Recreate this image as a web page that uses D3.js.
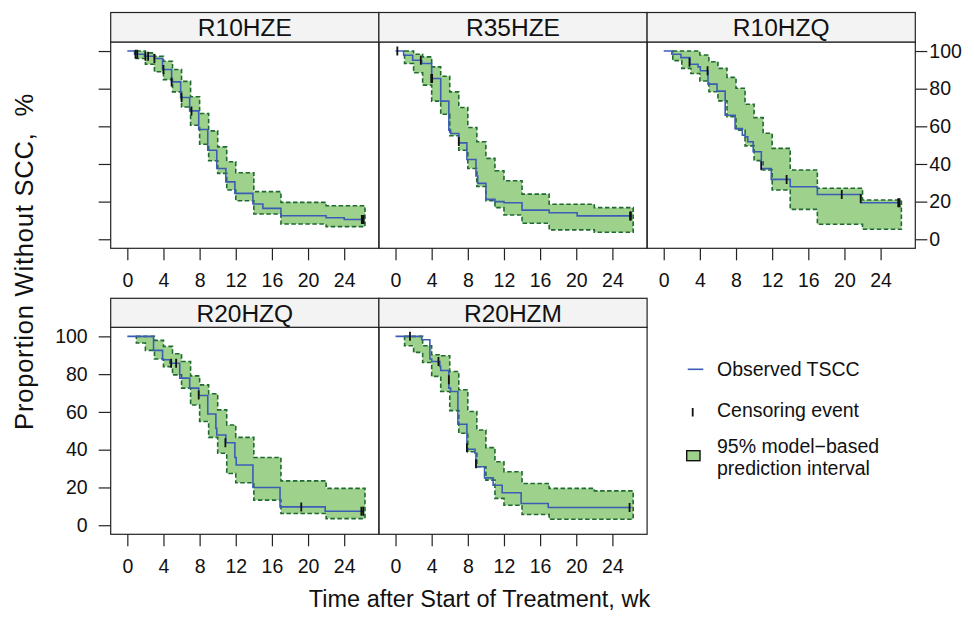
<!DOCTYPE html>
<html><head><meta charset="utf-8">
<script src="https://cdn.jsdelivr.net/npm/d3@7"></script>
<style>
html,body{margin:0;padding:0;background:#fff;}
svg{display:block;font-family:"Liberation Sans", Arial, Helvetica, sans-serif;}
</style></head><body>
<svg id="chart" width="974" height="619"></svg>
<script>
// ---------- DATA ----------
const panelNames = ["R10HZE", "R35HZE", "R10HZQ", "R20HZQ", "R20HZM"];
const xTicks = [0, 4, 8, 12, 16, 20, 24];
const yTicks = [0, 20, 40, 60, 80, 100];
const xTitle = "Time after Start of Treatment, wk";
const yTitle = "Proportion Without SCC,  %";
const legendLabels = ["Observed TSCC", "Censoring event", "95% model\u2212based", "prediction interval"];

// prediction-interval step boundaries (weeks)
const bandTimes = [1, 2, 3, 4, 5, 6, 7, 8, 9, 10, 11, 12, 14, 17, 22, 26.3];

// R10HZE
const obsTime_R10HZE = [0, 0.8, 1.9, 3.0, 3.9, 4.9, 5.9, 6.9, 7.9, 8.9, 9.9, 10.9, 11.9, 13.9, 15.0, 17.0, 22.0, 24.0, 26.1];
const obsSurv_R10HZE = [100, 98.3, 97.2, 96.0, 90.2, 83.6, 75.3, 68.2, 58.3, 47.3, 37.6, 30.5, 24.4, 18.7, 16.4, 12.5, 11.4, 10.5, 10.5];
const censTime_R10HZE = [0.9, 1.1, 2.0, 2.3, 3.0, 4.0, 4.9, 6.0, 7.1, 25.95, 26.05, 26.15];
const censSurv_R10HZE = [98.3, 98.3, 97.2, 97.2, 96.0, 90.2, 83.6, 75.3, 68.2, 10.5, 10.5, 10.5];
const upper_R10HZE = [100, 99, 97.2, 94.6, 90.2, 83.9, 75.7, 66.8, 57.6, 49.1, 41.2, 35.3, 25.3, 19.6, 17.8];
const lower_R10HZE = [96.0, 93, 89, 84.8, 78.3, 70.3, 60.6, 50.5, 41.7, 35.0, 26.2, 20.5, 13.4, 8.1, 6.7];

// R35HZE
const obsTime_R35HZE = [0, 0.9, 1.9, 2.9, 4.0, 5.0, 5.9, 6.1, 7.0, 7.9, 8.9, 9.1, 10.0, 11.0, 12.0, 14.0, 17.0, 20.1, 26.1];
const obsSurv_R35HZE = [100, 97.8, 95.1, 93.4, 85.4, 73.4, 58.0, 56.2, 51.2, 42.4, 33.6, 29.7, 21.2, 20.0, 19.4, 15.5, 14.1, 12.4, 12.4];
const censTime_R35HZE = [0.2, 2.8, 3.95, 4.05, 7.0, 25.95, 26.05];
const censSurv_R35HZE = [100, 95.1, 85.4, 85.4, 52.0, 12.4, 12.4];
const upper_R35HZE = [100, 98.3, 96.9, 91.6, 86.6, 78.3, 70.0, 59.4, 51.8, 43.0, 36.4, 31.1, 24.0, 18.6, 16.8];
const lower_R35HZE = [93.4, 88.5, 81.9, 73.4, 66.4, 55.0, 47.3, 37.6, 28.0, 20.5, 16.8, 12.9, 8.5, 5.0, 3.7];

// R10HZQ
const obsTime_R10HZQ = [0, 0.9, 1.9, 2.9, 3.8, 4.05, 4.9, 5.9, 6.8, 7.9, 8.7, 9.0, 9.3, 9.9, 10.8, 11.9, 14.0, 17.0, 21.8, 26.1];
const obsSurv_R10HZQ = [100, 98.3, 96.5, 93.0, 91.6, 89.5, 82.4, 78.7, 65.9, 58.8, 55.3, 54.4, 51.8, 46.5, 37.6, 31.8, 27.9, 23.8, 19.4, 19.4];
const censTime_R10HZQ = [2.85, 4.85, 10.8, 13.6, 19.7, 21.8, 25.95, 26.1];
const censSurv_R10HZQ = [94.0, 89.5, 39.0, 31.8, 23.8, 21.6, 19.4, 19.4];
const upper_R10HZQ = [100, 100, 100, 97.9, 94.3, 90.8, 86.0, 80.2, 71.7, 64.6, 56.3, 48.3, 36.8, 27.1, 20.9];
const lower_R10HZQ = [94.9, 90.8, 88.1, 84.1, 78.4, 73.5, 65.1, 58.0, 49.6, 41.8, 36.8, 26.2, 15.9, 8.0, 5.3];

// R20HZQ
const obsTime_R20HZQ = [0, 2.9, 3.9, 4.7, 5.8, 6.9, 7.9, 8.9, 9.8, 9.9, 10.9, 11.9, 12.05, 13.9, 16.9, 21.9, 26.1];
const obsSurv_R20HZQ = [100, 92.6, 87.6, 85.8, 77.9, 72.6, 68.7, 58.9, 51.3, 47.8, 43.7, 35.9, 31.9, 20.0, 9.7, 7.4, 7.4];
const censTime_R20HZQ = [4.85, 5.4, 7.9, 10.85, 19.25, 25.9, 26.1];
const censSurv_R20HZQ = [85.8, 85.8, 69.0, 43.7, 9.7, 7.4, 7.4];
const upper_R20HZQ = [100, 100, 97.9, 94.7, 90.8, 86.7, 79.1, 74.3, 69.6, 61.1, 53.1, 46.5, 35.9, 23.5, 19.5];
const lower_R20HZQ = [96.5, 92.6, 88.0, 84.0, 79.6, 72.6, 63.7, 54.9, 46.5, 38.1, 27.4, 22.5, 13.3, 6.2, 3.5];

// R20HZM
const obsTime_R20HZM = [0, 2.9, 3.8, 4.0, 4.9, 5.0, 5.9, 6.1, 6.9, 7.9, 8.8, 8.9, 9.85, 10.8, 11.8, 13.9, 16.9, 26.1];
const obsSurv_R20HZM = [100, 98.2, 88.0, 86.7, 84.1, 81.9, 72.6, 70.8, 53.5, 40.2, 38.1, 31.0, 25.1, 21.2, 17.2, 11.5, 9.4, 9.4];
const censTime_R20HZM = [1.6, 4.75, 5.9, 7.9, 8.9, 25.9];
const censSurv_R20HZM = [100, 86.7, 77.0, 41.0, 32.5, 9.4];
const upper_R20HZM = [100, 100, 95.0, 90.3, 89.7, 81.4, 71.7, 60.2, 50.4, 41.1, 33.6, 28.3, 22.1, 19.5, 18.2];
const lower_R20HZM = [95.0, 91.5, 86.2, 78.8, 70.8, 60.7, 48.7, 38.9, 31.0, 23.9, 14.2, 10.6, 5.7, 3.2, 3.2];

// ---------- ASSEMBLY ----------
const obsTimes = [obsTime_R10HZE, obsTime_R35HZE, obsTime_R10HZQ, obsTime_R20HZQ, obsTime_R20HZM];
const obsSurvs = [obsSurv_R10HZE, obsSurv_R35HZE, obsSurv_R10HZQ, obsSurv_R20HZQ, obsSurv_R20HZM];
const censTimes = [censTime_R10HZE, censTime_R35HZE, censTime_R10HZQ, censTime_R20HZQ, censTime_R20HZM];
const censSurvs = [censSurv_R10HZE, censSurv_R35HZE, censSurv_R10HZQ, censSurv_R20HZQ, censSurv_R20HZM];
const uppers = [upper_R10HZE, upper_R35HZE, upper_R10HZQ, upper_R20HZQ, upper_R20HZM];
const lowers = [lower_R10HZE, lower_R35HZE, lower_R10HZQ, lower_R20HZQ, lower_R20HZM];

const COL_FILL = "#9ed18c", COL_DASH = "#1f6a30", COL_LINE = "#3b5db5", COL_FRAME = "#222";

const svg = d3.select("#chart");
const defs = svg.append("defs");
const colX = [110.7, 378.9, 647.1];
const panelW = 268.2;
const rows = [
  {stripTop: 12.5, plotTop: 42, plotBottom: 248.3},
  {stripTop: 298.3, plotTop: 327.3, plotBottom: 534.3}
];
const layout = [[0, 0], [0, 1], [0, 2], [1, 0], [1, 1]];
const xDomain = [-1.84, 27.84];
const yDomain = [-4.8, 104.8];

function styleAxis(ax) {
  ax.attr("font-family", null).attr("font-size", null);
  ax.select(".domain").remove();
  ax.selectAll(".tick line").attr("stroke", COL_FRAME).attr("stroke-width", 1.2);
  ax.selectAll(".tick text").attr("fill", "#111").style("font-size", "19.5px");
}

panelNames.forEach((name, i) => {
  const [ri, ci] = layout[i];
  const r = rows[ri];
  const x0 = colX[ci];
  const x = d3.scaleLinear().domain(xDomain).range([x0, x0 + panelW]);
  const y = d3.scaleLinear().domain(yDomain).range([r.plotBottom, r.plotTop]);
  const g = svg.append("g");

  defs.append("clipPath").attr("id", "clip" + i).append("rect")
    .attr("x", x0).attr("y", r.plotTop).attr("width", panelW).attr("height", r.plotBottom - r.plotTop);
  const pg = g.append("g").attr("clip-path", `url(#clip${i})`);

  // prediction band
  const up = uppers[i], lo = lowers[i];
  const bandData = bandTimes.map((t, k) => ({t, hi: up[Math.min(k, up.length - 1)], lo: lo[Math.min(k, lo.length - 1)]}));
  const area = d3.area().x(d => x(d.t)).y0(d => y(d.lo)).y1(d => y(d.hi)).curve(d3.curveStepAfter);
  pg.append("path").attr("d", area(bandData))
    .attr("fill", COL_FILL).attr("stroke", COL_DASH)
    .attr("stroke-width", 1.6).attr("stroke-dasharray", "4.5,2.5");

  // observed step line
  const line = d3.line().x(d => x(d[0])).y(d => y(d[1])).curve(d3.curveStepAfter);
  pg.append("path").attr("d", line(d3.zip(obsTimes[i], obsSurvs[i])))
    .attr("fill", "none").attr("stroke", COL_LINE).attr("stroke-width", 1.6);

  // censoring marks
  pg.selectAll("line.cens").data(d3.zip(censTimes[i], censSurvs[i])).join("line")
    .attr("class", "cens")
    .attr("x1", d => x(d[0])).attr("x2", d => x(d[0]))
    .attr("y1", d => y(d[1]) - 4.5).attr("y2", d => y(d[1]) + 4.5)
    .attr("stroke", "#111").attr("stroke-width", 1.8);

  // frame
  g.append("rect").attr("x", x0).attr("y", r.plotTop).attr("width", panelW).attr("height", r.plotBottom - r.plotTop)
    .attr("fill", "none").attr("stroke", COL_FRAME).attr("stroke-width", 1.2);
  // strip
  g.append("rect").attr("x", x0).attr("y", r.stripTop).attr("width", panelW).attr("height", r.plotTop - r.stripTop)
    .attr("fill", "#f3f3f3").attr("stroke", COL_FRAME).attr("stroke-width", 1.2);
  g.append("text").attr("x", x0 + panelW / 2).attr("y", r.stripTop + 23.4)
    .attr("text-anchor", "middle").style("font-size", "24.5px").attr("fill", "#111").text(name);

  // bottom axis
  const bx = g.append("g").attr("transform", `translate(0,${r.plotBottom})`)
    .call(d3.axisBottom(x).tickValues(xTicks).tickSize(12).tickPadding(13));
  styleAxis(bx);

  // left axis (first column)
  if (ci === 0) {
    const ax = d3.axisLeft(y).tickValues(yTicks).tickSize(12).tickPadding(11);
    if (ri === 0) ax.tickFormat("");
    const lx = g.append("g").attr("transform", `translate(${x0},0)`).call(ax);
    styleAxis(lx);
  }
  // right axis (top-right panel)
  if (ri === 0 && ci === 2) {
    const rx = g.append("g").attr("transform", `translate(${x0 + panelW},0)`)
      .call(d3.axisRight(y).tickValues(yTicks).tickSize(12).tickPadding(2));
    styleAxis(rx);
  }
});

// axis titles
svg.append("text").attr("x", 479.5).attr("y", 607.3).attr("text-anchor", "middle")
  .style("font-size", "23.5px").attr("fill", "#111").text(xTitle);
svg.append("text").attr("transform", "translate(32.5,261.5) rotate(-90)").attr("text-anchor", "middle")
  .style("font-size", "25.5px").style("white-space", "pre").style("letter-spacing", "0.8px")
  .attr("fill", "#111").text(yTitle);

// legend
const lg = svg.append("g").style("font-size", "19.5px").attr("fill", "#111");
lg.append("line").attr("x1", 687.7).attr("x2", 703.3).attr("y1", 369.3).attr("y2", 369.3)
  .attr("stroke", COL_LINE).attr("stroke-width", 1.6);
lg.append("text").attr("x", 717).attr("y", 376).text(legendLabels[0]);
lg.append("line").attr("x1", 692.7).attr("x2", 692.7).attr("y1", 408).attr("y2", 416.5)
  .attr("stroke", "#111").attr("stroke-width", 1.8);
lg.append("text").attr("x", 717).attr("y", 416.5).text(legendLabels[1]);
lg.append("rect").attr("x", 686.7).attr("y", 450.7).attr("width", 13.3).attr("height", 10)
  .attr("fill", COL_FILL).attr("stroke", "#111").attr("stroke-width", 1.4);
lg.append("text").attr("x", 717).attr("y", 453.3).text(legendLabels[2]);
lg.append("text").attr("x", 717).attr("y", 475).text(legendLabels[3]);
</script>
</body></html>
